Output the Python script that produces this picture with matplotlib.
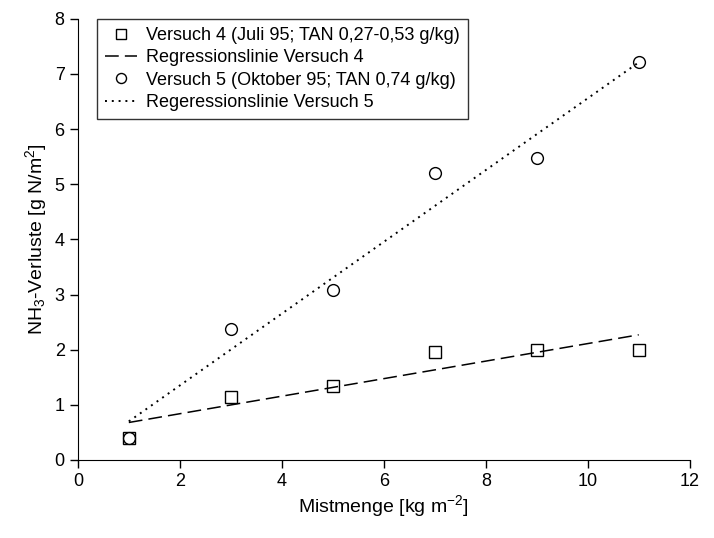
import matplotlib.pyplot as plt

plt.rcParams['font.family'] = ['Liberation Sans', 'DejaVu Sans']
plt.rcParams['mathtext.fontset'] = 'custom'
plt.rcParams['mathtext.rm'] = 'Liberation Sans'
plt.rcParams['mathtext.it'] = 'Liberation Sans'
plt.rcParams['mathtext.default'] = 'regular'

# Mistmenge [kg m-2]
mist = [1, 3, 5, 7, 9, 11]
# NH3-Verluste [g N/m2]
versuch4 = [0.40, 1.15, 1.35, 1.95, 2.00, 2.00]
versuch5 = [0.40, 2.37, 3.08, 5.20, 5.47, 7.22]
# regression line end points
reg_x = [1, 11]
reg4 = [0.68, 2.27]
reg5 = [0.70, 7.21]

fig = plt.figure(figsize=(7.14, 5.38), dpi=100)
ax = fig.add_axes([0.109, 0.145, 0.857, 0.82])

ax.plot(mist, versuch4, 's', mfc='white', mec='black', ms=8, mew=1.0,
        label='Versuch 4 (Juli 95; TAN 0,27-0,53 g/kg)')
ax.plot(reg_x, reg4, color='black', lw=1.1, dashes=(9, 4),
        label='Regressionslinie Versuch 4')
ax.plot(mist, versuch5, 'o', mfc='white', mec='black', ms=8.5, mew=1.0,
        label='Versuch 5 (Oktober 95; TAN 0,74 g/kg)')
ax.plot(reg_x, reg5, color='black', lw=1.4, dashes=(1, 2.5),
        label='Regeressionslinie Versuch 5')

ax.set_xlim(0, 12)
ax.set_ylim(0, 8)
ax.set_xticks(range(0, 13, 2))
ax.set_yticks(range(0, 9))
ax.spines['top'].set_visible(False)
ax.spines['right'].set_visible(False)
ax.tick_params(direction='out', length=6, width=1, labelsize=13)
ax.set_xlabel('Mistmenge [kg m$^{-2}$]', fontsize=14, labelpad=2)
ax.set_ylabel('NH$_3$-Verluste [g N/m$^2$]', fontsize=14)

leg = ax.legend(loc='upper left', bbox_to_anchor=(0.031, 1.0), borderaxespad=0,
                fontsize=13, frameon=True, fancybox=False, edgecolor='black',
                handlelength=1.8, handletextpad=0.5, borderpad=0.45,
                labelspacing=0.3, markerscale=0.85)
leg.get_frame().set_linewidth(1.0)

fig.savefig('out.png', dpi=100)
